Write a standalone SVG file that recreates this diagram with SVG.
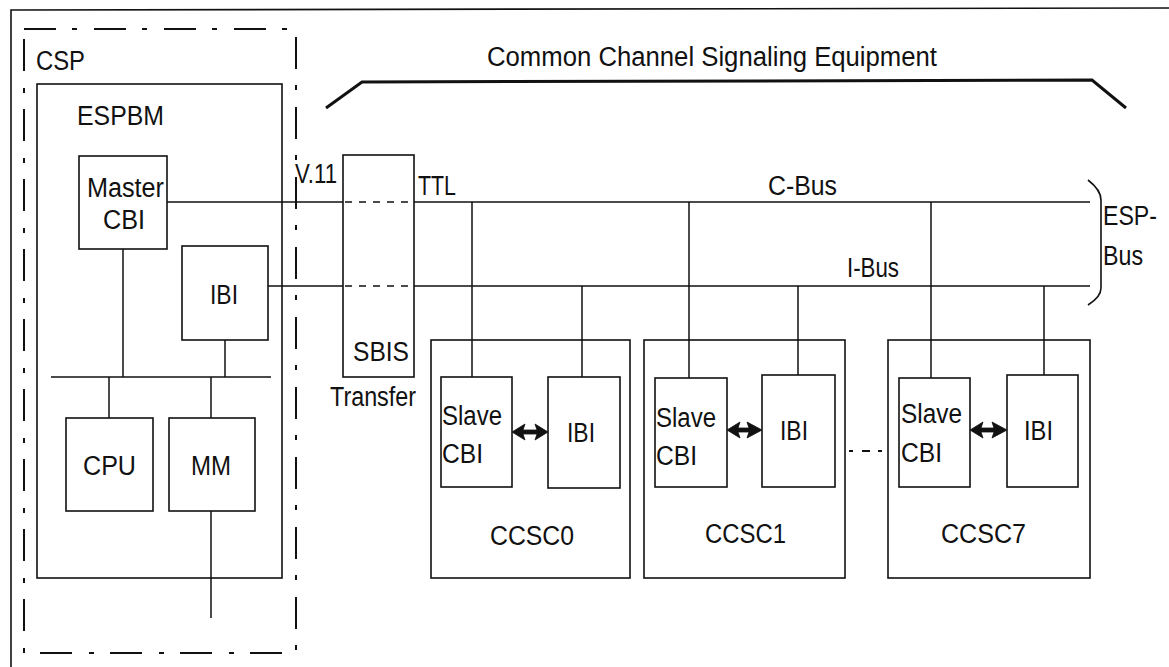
<svg xmlns="http://www.w3.org/2000/svg" width="1169" height="667" viewBox="0 0 1169 667">
<style>
.t{font-family:"Liberation Sans",Arial,sans-serif;font-size:27px;fill:#111}
.b{fill:none;stroke:#111;stroke-width:1.6}
.l{fill:none;stroke:#111;stroke-width:1.5}
.d{fill:none;stroke:#111;stroke-width:1.5;stroke-dasharray:7 7}
.a{fill:#111;stroke:#111;stroke-width:0.8;stroke-linejoin:round}
</style>
<rect width="1169" height="667" fill="#fff"/>
<g id="frame">
<path d="M11,667 L11,10 L1169,8" class="b"/>
</g>
<g id="csp">
<rect x="24" y="29" width="272" height="624" fill="none" stroke="#111" stroke-width="2" stroke-dasharray="32 16 5 17"/>
<text x="36" y="70" class="t" textLength="49" lengthAdjust="spacingAndGlyphs">CSP</text>
</g>
<g id="espbm">
<rect x="37" y="84" width="245" height="494" class="b"/>
<text x="77" y="125" class="t" textLength="87" lengthAdjust="spacingAndGlyphs">ESPBM</text>
</g>
<g id="master-cbi">
<rect x="79" y="156" width="88" height="93" class="b"/>
<text x="87" y="197" class="t" textLength="77" lengthAdjust="spacingAndGlyphs">Master</text>
<text x="103" y="229" class="t" textLength="42" lengthAdjust="spacingAndGlyphs">CBI</text>
</g>
<g id="ibi-espbm">
<rect x="182" y="246" width="86" height="94" class="b"/>
<text x="210" y="304" class="t" textLength="28" lengthAdjust="spacingAndGlyphs">IBI</text>
</g>
<g id="cpu">
<rect x="66" y="418" width="87" height="93" class="b"/>
<text x="83" y="475" class="t" textLength="53" lengthAdjust="spacingAndGlyphs">CPU</text>
</g>
<g id="mm">
<rect x="169" y="418" width="86" height="93" class="b"/>
<text x="191" y="475" class="t" textLength="40" lengthAdjust="spacingAndGlyphs">MM</text>
</g>
<g id="sbis">
<rect x="343" y="155" width="71" height="222" class="b"/>
<text x="353" y="361" class="t" textLength="56" lengthAdjust="spacingAndGlyphs">SBIS</text>
<text x="330" y="406" class="t" textLength="86" lengthAdjust="spacingAndGlyphs">Transfer</text>
</g>
<g id="ccsc0">
<rect x="431" y="340" width="199" height="238" class="b"/>
<rect x="441" y="377" width="71" height="110" class="b"/>
<text x="442" y="425" class="t" textLength="60" lengthAdjust="spacingAndGlyphs">Slave</text>
<text x="442" y="463" class="t" textLength="41" lengthAdjust="spacingAndGlyphs">CBI</text>
<rect x="548" y="377" width="72" height="111" class="b"/>
<text x="567" y="442" class="t" textLength="28" lengthAdjust="spacingAndGlyphs">IBI</text>
<text x="490" y="545" class="t" textLength="84" lengthAdjust="spacingAndGlyphs">CCSC0</text>
</g>
<g id="ccsc1">
<rect x="644" y="340" width="201" height="238" class="b"/>
<rect x="655" y="378" width="72" height="109" class="b"/>
<text x="656" y="427" class="t" textLength="60" lengthAdjust="spacingAndGlyphs">Slave</text>
<text x="656" y="465" class="t" textLength="41" lengthAdjust="spacingAndGlyphs">CBI</text>
<rect x="762" y="375" width="73" height="112" class="b"/>
<text x="780" y="440" class="t" textLength="28" lengthAdjust="spacingAndGlyphs">IBI</text>
<text x="705" y="543" class="t" textLength="81" lengthAdjust="spacingAndGlyphs">CCSC1</text>
</g>
<g id="ccsc7">
<rect x="888" y="340" width="202" height="238" class="b"/>
<rect x="899" y="378" width="71" height="109" class="b"/>
<text x="901" y="423" class="t" textLength="61" lengthAdjust="spacingAndGlyphs">Slave</text>
<text x="901" y="462" class="t" textLength="41" lengthAdjust="spacingAndGlyphs">CBI</text>
<rect x="1007" y="375" width="71" height="112" class="b"/>
<text x="1024" y="440" class="t" textLength="29" lengthAdjust="spacingAndGlyphs">IBI</text>
<text x="941" y="543" class="t" textLength="85" lengthAdjust="spacingAndGlyphs">CCSC7</text>
</g>
<g id="equipment">
<path d="M326,108 L362,82 L1092,80 L1126,108" fill="none" stroke="#111" stroke-width="3"/>
<text x="487" y="66" class="t" textLength="450" lengthAdjust="spacingAndGlyphs">Common Channel Signaling Equipment</text>
</g>
<g id="esp-bus">
<path d="M1088,180 Q1101,190 1101,200 L1101,288 Q1101,297 1088,305" class="b"/>
<text x="1103" y="225" class="t" textLength="54" lengthAdjust="spacingAndGlyphs">ESP-</text>
<text x="1103" y="265" class="t" textLength="40" lengthAdjust="spacingAndGlyphs">Bus</text>
</g>
<g id="labels">
<text x="295" y="183" class="t" textLength="42" lengthAdjust="spacingAndGlyphs">V.11</text>
<text x="418" y="195" class="t" textLength="38" lengthAdjust="spacingAndGlyphs">TTL</text>
<text x="768" y="195" class="t" textLength="69" lengthAdjust="spacingAndGlyphs">C-Bus</text>
<text x="847" y="277" class="t" textLength="52" lengthAdjust="spacingAndGlyphs">I-Bus</text>
</g>
<g id="connectors">
<path d="M167,202 L343,202 M414,202 L1090,202" class="l" stroke-width="1.8"/>
<path d="M268,286 L343,286 M414,286 L1090,286" class="l" stroke-width="1.8"/>
<path d="M345,202 L414,202 M345,286 L414,286" class="d"/>
<path d="M123,249 L123,377 M225,340 L225,377 M51,377 L271,377 M109,377 L109,418 M211,377 L211,418 M211,511 L211,618" class="l"/>
<path d="M472,202 L472,377 M582,286 L582,377 M689,202 L689,378 M798,286 L798,375 M931,202 L931,378 M1044,286 L1044,375" class="l"/>
<path class="a" d="M512,432 L525,424 L523,430 L537,430 L535,424 L548,432 L535,440 L537,434 L523,434 L525,440 z"/>
<path class="a" d="M727,430 L740,422 L738,428 L749,428 L747,422 L762,430 L747,438 L749,432 L738,432 L740,438 z"/>
<path class="a" d="M970,430 L983,422 L981,428 L994,428 L992,422 L1007,430 L992,438 L994,432 L981,432 L983,438 z"/>
<path d="M849,451 L853,451 M862,451 L870,451 M878,451 L882,451" stroke="#111" stroke-width="2"/>
</g>
</svg>
